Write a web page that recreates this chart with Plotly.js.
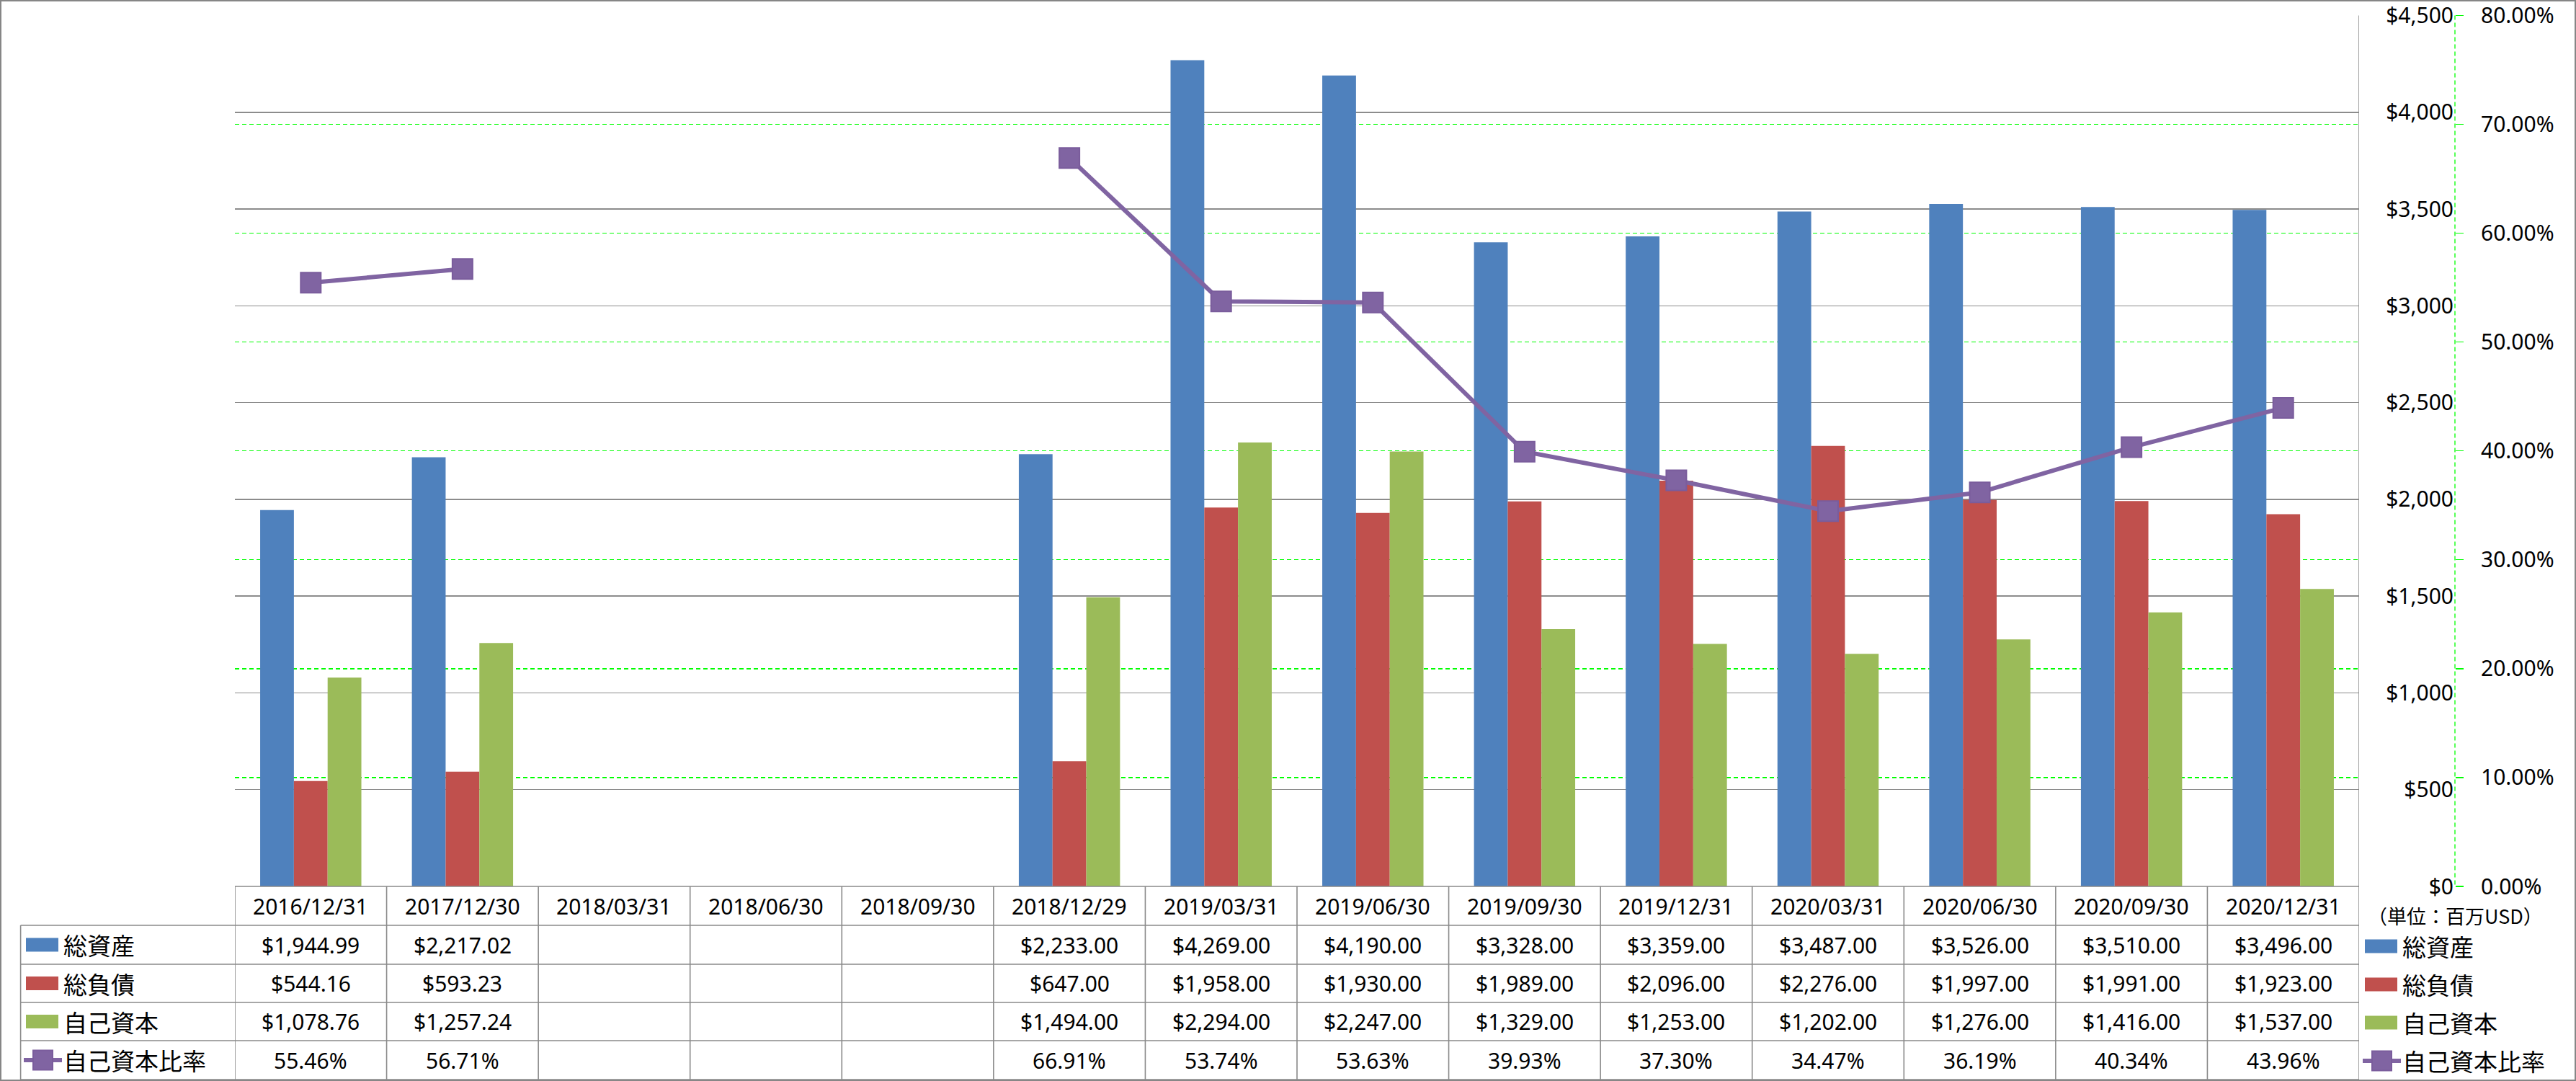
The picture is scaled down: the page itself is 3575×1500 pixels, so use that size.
<!DOCTYPE html>
<html>
<head>
<meta charset="utf-8">
<script src="https://cdn.plot.ly/plotly-3.0.1.min.js"></script>
<style>
html,body{margin:0;padding:0;background:#fff;}
#chart{width:3575px;height:1500px;}
</style>
</head>
<body>
<div id="chart"></div>
<script>
// ---- data ----
const categories = ['2016/12/31','2017/12/30','2018/03/31','2018/06/30','2018/09/30','2018/12/29','2019/03/31','2019/06/30','2019/09/30','2019/12/31','2020/03/31','2020/06/30','2020/09/30','2020/12/31'];
const totalAssets = [1944.99, 2217.02, null, null, null, 2233, 4269, 4190, 3328, 3359, 3487, 3526, 3510, 3496];
const totalLiabilities = [544.16, 593.23, null, null, null, 647, 1958, 1930, 1989, 2096, 2276, 1997, 1991, 1923];
const equity = [1078.76, 1257.24, null, null, null, 1494, 2294, 2247, 1329, 1253, 1202, 1276, 1416, 1537];
const equityRatio = [55.46, 56.71, null, null, null, 66.91, 53.74, 53.63, 39.93, 37.30, 34.47, 36.19, 40.34, 43.96];
const seriesNames = ['総資産', '総負債', '自己資本', '自己資本比率'];
const unitLabel = '（単位：百万USD）';

// ---- style ----
const W = 3575, H = 1500;
const colors = ['#4F81BD', '#C0504D', '#9BBB59', '#8064A2'];
const gridGray = '#8c8c8c';
const latinFont = 'Noto Sans, Noto Sans CJK JP, sans-serif';
const cjkFont = 'Noto Sans CJK JP, Noto Sans, sans-serif';
const X = px => px / W;
const Y = py => 1 - py / H;

const plotL = 326, plotR = 3274, plotT = 21.5, plotB = 1230;
const axisX = 3407;
const rowLines = [1230, 1284, 1338, 1391, 1444, 1498];
const rowCenters = [1257, 1311, 1364.5, 1417.5, 1471];
const legendLeft = 28.6;

const fmtMoney = v => '$' + v.toLocaleString('en-US', {minimumFractionDigits: 2, maximumFractionDigits: 2});
const fmtPct = v => v.toFixed(2) + '%';

// ---- traces ----
const traces = [
  {type: 'bar', name: seriesNames[0], x: categories, y: totalAssets, marker: {color: colors[0]}, hoverinfo: 'x+y'},
  {type: 'bar', name: seriesNames[1], x: categories, y: totalLiabilities, marker: {color: colors[1]}, hoverinfo: 'x+y'},
  {type: 'bar', name: seriesNames[2], x: categories, y: equity, marker: {color: colors[2]}, hoverinfo: 'x+y'},
  {type: 'scatter', mode: 'lines+markers', name: seriesNames[3], x: categories, y: equityRatio, yaxis: 'y2',
   connectgaps: false,
   line: {color: colors[3], width: 6},
   marker: {symbol: 'square', size: 28, color: '#8064A2', line: {color: '#7A5C9C', width: 2}}}
];

// ---- table & legend ----
const shapes = [];
const annotations = [];
const lineStyle = {color: '#8a8a8a', width: 1.6};

// outer frame
shapes.push({type: 'rect', xref: 'paper', yref: 'paper', x0: 0, x1: 1, y0: 0, y1: 1, line: {color: '#868686', width: 4}, layer: 'above'});

// dashed secondary axis line
shapes.push({type: 'line', xref: 'paper', yref: 'paper', x0: X(axisX), x1: X(axisX), y0: Y(plotT), y1: Y(plotB), line: {color: '#00ff00', width: 1.3, dash: '6px,4px'}});

// horizontal table lines
shapes.push({type: 'line', xref: 'paper', yref: 'paper', x0: X(plotL), x1: X(plotR), y0: Y(rowLines[0]), y1: Y(rowLines[0]), line: lineStyle, layer: 'above'});
for (let r = 1; r < rowLines.length; r++) {
  shapes.push({type: 'line', xref: 'paper', yref: 'paper', x0: X(legendLeft), x1: X(plotR), y0: Y(rowLines[r]), y1: Y(rowLines[r]), line: lineStyle, layer: 'above'});
}
// vertical table lines (column boundaries via category axis)
for (let k = 0; k <= categories.length; k++) {
  const top = (k === categories.length) ? plotT : rowLines[0];
  shapes.push({type: 'line', xref: 'x', yref: 'paper', x0: k - 0.5, x1: k - 0.5, y0: Y(top), y1: Y(rowLines[rowLines.length - 1]), line: lineStyle, layer: 'above'});
}
shapes.push({type: 'line', xref: 'paper', yref: 'paper', x0: X(legendLeft), x1: X(legendLeft), y0: Y(rowLines[1]), y1: Y(rowLines[rowLines.length - 1]), line: lineStyle, layer: 'above'});

// header dates
categories.forEach((c, i) => {
  annotations.push({xref: 'x', yref: 'paper', x: c, y: Y(rowCenters[0]), text: c, showarrow: false,
    font: {family: latinFont, size: 30, color: '#000'}, xanchor: 'center', yanchor: 'middle'});
});
// values
const rows = [totalAssets.map(v => v == null ? null : fmtMoney(v)),
              totalLiabilities.map(v => v == null ? null : fmtMoney(v)),
              equity.map(v => v == null ? null : fmtMoney(v)),
              equityRatio.map(v => v == null ? null : fmtPct(v))];
rows.forEach((row, r) => {
  row.forEach((t, i) => {
    if (t == null) return;
    annotations.push({xref: 'x', yref: 'paper', x: categories[i], y: Y(rowCenters[r + 1]), text: t, showarrow: false,
      font: {family: latinFont, size: 30, color: '#000'}, xanchor: 'center', yanchor: 'middle'});
  });
});

// legend keys: in table (left) and at right
function legendKey(x0, yc, idx, textX) {
  if (idx < 3) {
    shapes.push({type: 'rect', xref: 'paper', yref: 'paper', x0: X(x0), x1: X(x0 + 45), y0: Y(yc + 9.5), y1: Y(yc - 9.5),
      fillcolor: colors[idx], line: {width: 0}, layer: 'above'});
  } else {
    shapes.push({type: 'line', xref: 'paper', yref: 'paper', x0: X(x0 - 3), x1: X(x0 + 50), y0: Y(yc), y1: Y(yc),
      line: {color: colors[3], width: 6}, layer: 'above'});
    shapes.push({type: 'rect', xref: 'paper', yref: 'paper', x0: X(x0 + 10), x1: X(x0 + 37), y0: Y(yc + 13.5), y1: Y(yc - 13.5),
      fillcolor: '#8064A2', line: {color: '#7A5C9C', width: 2}, layer: 'above'});
  }
  annotations.push({xref: 'paper', yref: 'paper', x: X(textX), y: Y(yc), text: seriesNames[idx], showarrow: false,
    xanchor: 'left', yanchor: 'middle', font: {family: cjkFont, size: 33, color: '#000'}});
}
for (let i = 0; i < 4; i++) legendKey(36, rowCenters[i + 1], i, 86);
const rightCenters = [1313, 1366, 1419, 1472];
for (let i = 0; i < 4; i++) legendKey(3282, rightCenters[i], i, 3332);

// unit label
annotations.push({xref: 'paper', yref: 'paper', x: X(axisX), y: Y(1270), text: unitLabel, showarrow: false,
  xanchor: 'center', yanchor: 'middle', font: {family: cjkFont, size: 27, color: '#000'}});

const layout = {
  width: W, height: H,
  margin: {l: 0, r: 0, t: 0, b: 0, pad: 0},
  paper_bgcolor: '#fff', plot_bgcolor: 'rgba(0,0,0,0)',
  showlegend: false,
  barmode: 'group', bargap: 0.333, bargroupgap: 0,
  font: {family: latinFont, size: 30, color: '#000'},
  xaxis: {type: 'category', domain: [X(plotL), X(plotR)], range: [-0.5, categories.length - 0.5],
    showticklabels: false, showgrid: false, zeroline: false, showline: false, ticks: '', fixedrange: true},
  yaxis: {range: [0, 4500], domain: [Y(plotB), Y(plotT)], anchor: 'free', position: X(axisX), side: 'left',
    dtick: 500, tick0: 0, tickprefix: '$', tickformat: ',d', ticks: '', ticklabelstandoff: 2,
    showgrid: true, gridcolor: gridGray, gridwidth: 1.5, zeroline: false, showline: false,
    tickfont: {family: latinFont, size: 30, color: '#000'}},
  yaxis2: {range: [0, 80], domain: [Y(plotB), Y(plotT)], overlaying: 'y', anchor: 'free', position: X(axisX), side: 'right',
    dtick: 10, tick0: 0, tickformat: '.2f', ticksuffix: '%', ticks: 'outside', ticklen: 11, tickcolor: '#00ff00', tickwidth: 1.3,
    ticklabelstandoff: 18,
    showgrid: true, gridcolor: '#00ff00', gridwidth: 1.3, griddash: '6px,4px', zeroline: false, showline: false,
    tickfont: {family: latinFont, size: 30, color: '#000'}},
  shapes: shapes,
  annotations: annotations
};

Plotly.newPlot('chart', traces, layout, {displayModeBar: false, staticPlot: true});
</script>
</body>
</html>
